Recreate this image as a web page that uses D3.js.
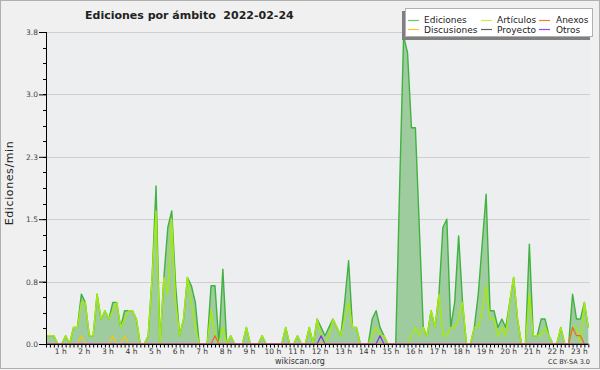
<!DOCTYPE html>
<html><head><meta charset="utf-8">
<script src="https://cdn.jsdelivr.net/npm/d3@7"></script>
<style>html,body{margin:0;padding:0;background:#f0f0f0;}svg{display:block;font-family:"DejaVu Sans",sans-serif;}</style>
</head><body>
<svg id="c" width="600" height="370"></svg>
<script>
const titleText = "Ediciones por ámbito  2022-02-24";
const yTickValues = [0, 0.75, 1.5, 2.25, 3.0, 3.75];
const yTickLabels = ["0.0", "0.8", "1.5", "2.3", "3.0", "3.8"];
const hourLabels = ["1 h","2 h","3 h","4 h","5 h","6 h","7 h","8 h","9 h","10 h","11 h","12 h","13 h","14 h","15 h","16 h","17 h","18 h","19 h","20 h","21 h","22 h","23 h"];
const seriesNames = ["Ediciones","Artículos","Anexos","Discusiones","Proyecto","Otros"];

const ediciones = [0.1,0.1,0.1,0,0,0.1,0,0.2,0.2,0.6,0.5,0.1,0.1,0.6,0.3,0.4,0.3,0.5,0.5,0.2,
0.4,0.4,0.4,0.3,0,0,0.1,0.8,1.9,0,0.8,1.4,1.6,0.7,0.1,0.3,0.8,0.7,0.5,0,
0,0,0.7,0.7,0,0.9,0,0.1,0,0,0,0.2,0,0,0,0.1,0,0,0,0,
0,0.2,0,0,0.1,0,0,0.2,0,0.3,0.2,0.1,0.2,0.3,0.2,0.1,0.5,1.0,0.2,0.2,
0,0,0,0.3,0.4,0.2,0.1,0,0,0,1.9,3.7,3.5,2.6,2.6,1.4,0.2,0.1,0.4,0.2,
0.6,1.4,1.5,0.2,0.5,1.3,0.5,0,0,0.2,0.6,1.2,1.8,0.4,0.4,0.2,0.3,0.2,0.5,0.8,
0.3,0,0,1.2,0.1,0.1,0.3,0.3,0.1,0,0,0.2,0,0,0.6,0.3,0.3,0.5,0.2];
const articulos = [0.1,0.1,0.1,0,0,0.1,0,0.2,0.2,0.5,0.5,0.1,0.1,0.6,0.3,0.4,0.3,0.4,0.5,0.2,
0.3,0.4,0.4,0.3,0,0,0.1,0.8,1.6,0,0.8,0.6,1.5,0.5,0.1,0.3,0.8,0.5,0.2,0,
0,0,0.4,0.1,0,0.2,0,0.1,0,0,0,0.2,0,0,0,0.1,0,0,0,0,
0,0.2,0,0,0.1,0,0,0.2,0,0.3,0.1,0,0.1,0.3,0.2,0.1,0.3,0.5,0.2,0.2,
0,0,0,0.1,0.2,0.1,0.1,0,0,0,0,0,0,0.1,0.2,0.1,0.2,0.1,0.4,0.2,
0.6,0.1,0.1,0.2,0.2,0.3,0.5,0,0,0.2,0.2,0.4,0.7,0.3,0.3,0.1,0.2,0.1,0.5,0.8,
0.3,0,0,0.6,0.1,0.1,0.1,0.2,0.1,0,0,0.2,0,0,0.2,0.2,0,0.5,0.2];
const anexos = [0,0,0,0,0,0,0,0,0,0,0,0,0,0,0,0,0,0,0,0,
0,0,0,0,0,0,0,0,0,0,0,0,0,0,0,0,0,0,0,0,
0,0,0,0.1,0,0,0,0,0,0,0,0,0,0,0,0,0,0,0,0,
0,0,0,0,0,0,0,0,0,0,0,0,0,0,0,0,0,0,0,0,
0,0,0,0,0,0,0,0,0,0,0,0,0,0,0,0,0,0,0,0,
0,0,0,0,0,0,0,0,0,0,0,0,0,0,0,0,0,0,0,0,
0,0,0,0,0,0,0,0,0,0,0,0,0,0,0.2,0.1,0.1,0,0];
const discusiones = [0,0,0,0,0,0,0,0,0,0.1,0,0,0,0,0,0,0,0.1,0,0,
0.1,0,0,0,0,0,0,0,0,0,0,0,0,0,0,0,0,0,0,0,
0,0,0,0,0,0,0,0,0,0,0,0,0,0,0,0,0,0,0,0,
0,0,0,0,0,0,0,0,0,0,0,0,0,0,0,0,0,0,0,0,
0,0,0,0,0,0,0,0,0,0,0,0,0,0,0,0,0,0,0,0,
0,0,0,0,0,0,0,0,0,0,0,0,0,0,0,0,0,0,0,0,
0,0,0,0,0,0,0,0,0,0,0,0,0,0,0,0,0,0,0];
const proyecto = ediciones.map(() => 0);
const otros = [0,0,0,0,0,0,0,0,0,0,0,0,0,0,0,0,0,0,0,0,
0,0,0,0,0,0,0,0,0,0,0,0,0,0,0,0,0,0,0,0,
0,0,0,0,0,0,0,0,0,0,0,0,0,0,0,0,0,0,0,0,
0,0,0,0,0,0,0,0,0,0,0.1,0,0,0,0,0,0,0,0,0,
0,0,0,0,0,0.1,0,0,0,0,0,0,0,0,0,0,0,0,0,0,
0,0,0,0,0,0,0,0,0,0,0,0,0,0,0,0,0,0,0,0,
0,0,0,0,0,0,0,0,0,0,0,0,0,0,0,0,0,0,0];

const svg = d3.select("#c");
const L = 46, R = 588.3, T = 32, B = 344;
const N = ediciones.length;
const x = d3.scaleLinear().domain([0, N - 1]).range([L, R]);
const y = d3.scaleLinear().domain([0, 3.75]).range([B, T]);

// background & border
svg.append("rect").attr("x",0.5).attr("y",0.5).attr("width",599).attr("height",368)
  .attr("fill","#f0f0f0").attr("stroke","#b0b0b0");
svg.append("rect").attr("x",L).attr("y",T).attr("width",590-L).attr("height",B-T).attr("fill","#eceef0");

// grid
svg.append("g").selectAll("line").data(yTickValues).join("line")
  .attr("x1",L).attr("x2",590).attr("y1",d=>Math.round(y(d))+0.5).attr("y2",d=>Math.round(y(d))+0.5)
  .attr("stroke","#cfcfcf").attr("stroke-width",1);

// series
const line = d3.line().x((d,i)=>x(i)).y(d=>y(d));
const area = d3.area().x((d,i)=>x(i)).y0(B).y1(d=>y(d));
svg.append("path").datum(ediciones).attr("d",area).attr("fill","#9fcc9f");
const series = [
  {data: ediciones, color: "#3fb23f", w: 1.4},
  {data: articulos, color: "#a6ea0c", w: 1.4},
  {data: proyecto, color: "#555555", w: 1.2},
  {data: discusiones, color: "#f5c518", w: 1.2},
  {data: anexos, color: "#f2642a", w: 1.2},
  {data: otros, color: "#8a2be2", w: 1.2}
];
series.forEach(s => {
  svg.append("path").datum(s.data).attr("d",line).attr("fill","none")
    .attr("stroke",s.color).attr("stroke-width",s.w).attr("stroke-linejoin","round");
});

// axes
const yAxis = d3.axisLeft(y).tickValues(yTickValues).tickSize(7).tickPadding(1)
  .tickFormat((d,i)=>yTickLabels[i]);
const gy = svg.append("g").attr("transform",`translate(${L},0)`).call(yAxis);
gy.select(".domain").attr("stroke","#000").attr("d",`M0.5,${T}V${B}`);
gy.selectAll(".tick line").attr("stroke","#000");
gy.selectAll(".tick text").attr("font-size","7.5px").attr("fill","#444").attr("font-family","DejaVu Sans");
const minor = d3.range(0, 3.75 + 1e-9, 0.1875);
svg.append("g").selectAll("line").data(minor).join("line")
  .attr("x1",L-3).attr("x2",L).attr("y1",d=>Math.round(y(d))+0.5).attr("y2",d=>Math.round(y(d))+0.5)
  .attr("stroke","#000");

const xAxis = d3.axisBottom(x).tickValues(d3.range(0, N)).tickSize(3).tickFormat("");
const gx = svg.append("g").attr("transform",`translate(0,${B+0.5})`).call(xAxis);
gx.select(".domain").attr("stroke","#000").attr("d",`M${L},0H${R}`);
gx.selectAll(".tick line").attr("stroke","#000");
svg.append("g").selectAll("text").data(hourLabels).join("text")
  .attr("x",(d,i)=>x(6*(i+1)-2)-1).attr("y",354).attr("text-anchor","middle")
  .attr("font-size","7.5px").attr("fill","#333").text(d=>d);

// y title
svg.append("text").attr("transform","translate(13,183) rotate(-90)").attr("text-anchor","middle")
  .attr("font-size","11px").attr("letter-spacing","0.6px").attr("fill","#222").text("Ediciones/min");

// title
svg.append("text").attr("x",85).attr("y",18.5).attr("font-size","11px").attr("font-weight","bold")
  .attr("fill","#222").attr("xml:space","preserve").style("white-space","pre").text(titleText);

// legend
svg.append("rect").attr("x",402).attr("y",11).attr("width",188).attr("height",29).attr("fill","#808080");
svg.append("rect").attr("x",405.5).attr("y",8.5).attr("width",187).attr("height",28).attr("fill","#fff").attr("stroke","#b0b0b0");
const legendColors = ["#66cc66","#c6f03c","#f47a45","#f7c733","#606060","#a040f5"];
const legPos = [[408,424,20,23.3],[481,497,20,23.3],[539,556,20,23.3],[408,424,29,32.5],[481,497,29,32.5],[539,556,29,32.5]];
seriesNames.forEach((n,i)=>{
  const p = legPos[i];
  svg.append("line").attr("x1",p[0]).attr("x2",p[0]+11).attr("y1",p[2]+0.5).attr("y2",p[2]+0.5)
    .attr("stroke",legendColors[i]).attr("stroke-width",1.2);
  svg.append("text").attr("x",p[1]).attr("y",p[3]).attr("font-size","9px").attr("fill","#222").text(n);
});

// footer
svg.append("text").attr("x",300).attr("y",364).attr("text-anchor","middle").attr("font-size","8px").attr("fill","#333").text("wikiscan.org");
svg.append("text").attr("x",590).attr("y",364).attr("text-anchor","end").attr("font-size","6.5px").attr("fill","#333").text("CC BY-SA 3.0");
</script>
</body></html>
